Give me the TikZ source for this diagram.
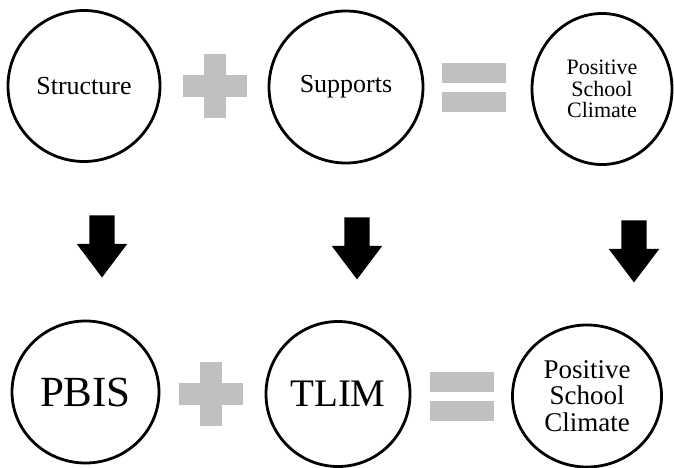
\documentclass[tikz,border=0pt]{standalone}
\usepackage{fontspec}
\setmainfont{Liberation Serif}
\usepackage{tikz}
\usetikzlibrary{shapes.geometric, shapes.arrows}
\definecolor{signgray}{RGB}{191,191,191}
\tikzset{
  %% ---- ellipses ----
  bubble/.style 2 args = {ellipse, draw=black, line width=2.8pt,
                   fill=white, inner sep=0pt, align=center,
                   minimum width=#1, minimum height=#2},
  smalltxt/.style = {font=\fontsize{26}{20}\selectfont},
  stacktxt/.style = {font=\fontsize{22}{21.5}\selectfont},
  bigtxt/.style   = {font=\fontsize{#1}{#1}\selectfont},
  bigtxt/.default = 39,
  midstack/.style = {font=\fontsize{27}{26.5}\selectfont},
  %% ---- block arrows ----
  downarrow/.style = {single arrow, fill=black, draw=none, rotate=-90,
                   inner xsep=0pt, inner ysep=12.5pt,
                   minimum height=62pt,
                   single arrow head extend=12.5pt,
                   single arrow tip angle=74, single arrow head indent=0pt},
  %% ---- signs ----
  plussign/.pic  = {\fill[signgray] (-32,-11) rectangle (32,11);
                    \fill[signgray] (-11,-32) rectangle (11,32);},
  equalsign/.pic = {\fill[signgray] (-32,-24.5) rectangle (32,-4.5);
                    \fill[signgray] (-32,4.5) rectangle (32,24.5);},
}

\begin{document}
\begin{tikzpicture}[x=1pt, y=-1pt]
  \useasboundingbox (0,0) rectangle (674,468);

  % top row
  \node[bubble={152pt}{151pt}, smalltxt] (struct) at (84,86) {Structure};
  \node[bubble={154pt}{152pt}, smalltxt] (supp) at (346,87) {Supports};
  \node[bubble={140pt}{151pt}, stacktxt] (climA) at (602,89)
    {Positive\\School\\Climate};
  \pic at (215,86) {plussign};
  \pic at (474,88) {equalsign};

  % arrows
  \node[downarrow] (arrA) at (102,238) {};
  \node[downarrow] (arrB) at (357,240) {};
  \node[downarrow] (arrC) at (634,243) {};

  % bottom row
  \node[bubble={147pt}{142pt}, bigtxt=43] (pbis) at (85.5,392) {PBIS};
  \node[bubble={144pt}{145pt}, bigtxt] (tlim) at (338,394) {TLIM};
  \node[bubble={149pt}{142pt}, midstack] (climB) at (587,396)
    {Positive\\School\\Climate};
  \pic at (211,394) {plussign};
  \pic at (462,396) {equalsign};

\end{tikzpicture}
\end{document}
